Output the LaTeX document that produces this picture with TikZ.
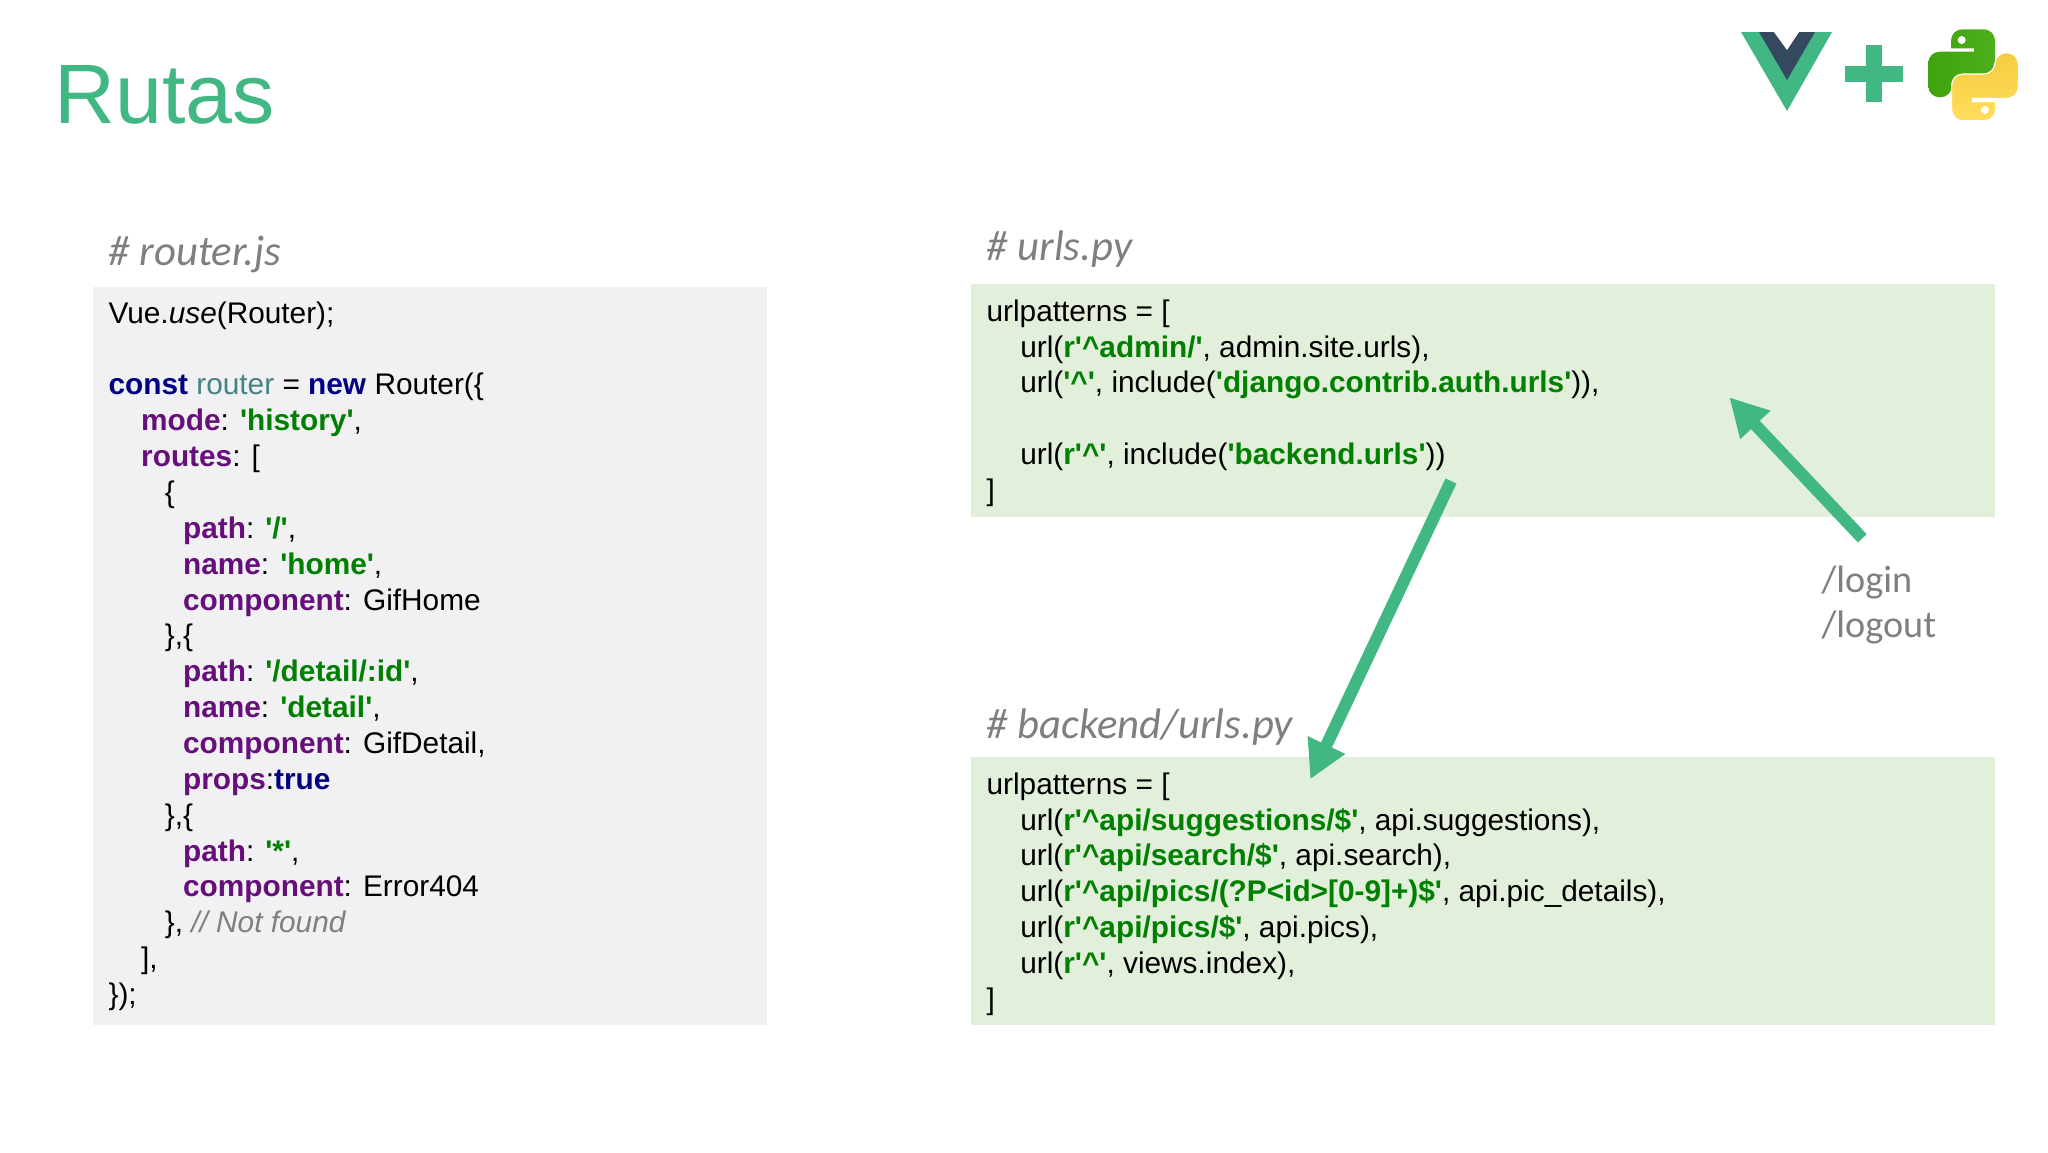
\documentclass[tikz,border=0pt]{standalone}
\usepackage{fontspec}
\usepackage{tikz}
\usetikzlibrary{arrows.meta}

\setmainfont{Liberation Sans}
\newfontfamily\codefont{Liberation Sans}
\newfontfamily\notefont{Carlito}

\definecolor{vuegreen}{HTML}{41B883}
\definecolor{vuedark}{HTML}{35495E}
\definecolor{notegray}{HTML}{7F7F7F}
\definecolor{jsbox}{HTML}{F1F1F3}
\definecolor{pybox}{HTML}{E2EFDA}
\definecolor{kwblue}{HTML}{000080}
\definecolor{proppurple}{HTML}{660E7A}
\definecolor{strgreen}{HTML}{008000}
\definecolor{vartcolor}{HTML}{458383}
\definecolor{pygreen}{HTML}{3FA30E}
\definecolor{pygreenlight}{HTML}{4DB01A}
\definecolor{pyyellow}{HTML}{FFDD5C}
\definecolor{pyyellowdeep}{HTML}{F5CC3E}

\newcommand{\kw}[1]{\textcolor{kwblue}{\textbf{#1}}}
\newcommand{\propname}[1]{\textcolor{proppurple}{\textbf{#1}}}
\newcommand{\strval}[1]{\textcolor{strgreen}{\textbf{#1}}}
\newcommand{\ind}[1]{\hspace*{#1pt}}
\newcommand{\caret}{\textasciicircum}
\newcommand{\snakepath}{(1951,48.3) [rounded corners=4pt] -- (1951,29.3) -- (1995,29.3) -- (1995,76) -- (1951.7,76) -- (1951.7,97.3) -- (1928.3,97.3) -- (1928.3,51.7) [sharp corners] -- (1974,51.7) -- (1974,48.3) -- cycle}

\tikzset{
    jspanel/.style={fill=jsbox,anchor=north west,inner sep=0pt,minimum width=8.425cm},
    pypanel/.style={fill=pybox,anchor=north west,inner sep=0pt,minimum width=12.8cm},
    codetext/.style={anchor=north west,inner sep=0pt,align=left,font=\codefont\fontsize{10.6}{12.75}\selectfont},
    heading/.style={anchor=base west,inner sep=0pt,text=notegray,font=\notefont\itshape\fontsize{15.2}{18}\selectfont},
    routenote/.style={anchor=base west,inner sep=0pt,align=left,text=notegray,font=\notefont\fontsize{13.6}{16}\selectfont},
    flow/.style={draw=vuegreen,line width=4.3pt,-{Triangle[length=13.5pt,width=13.8pt]}}
}

\begin{document}
\begin{tikzpicture}[x=0.0125cm,y=-0.0125cm]
    \useasboundingbox (0,0) rectangle (2048,1152);

    % title
    \node[anchor=base west,inner sep=0pt,text=vuegreen,font=\fontsize{30}{34}\selectfont] (title) at (54,123) {Rutas};

    % logos
    \fill[vuegreen] (1741,32) -- (1832,32) -- (1787,111) -- cycle;
    \fill[vuedark] (1759,32) -- (1815,32) -- (1787,80) -- cycle;
    \fill[white] (1774,32) -- (1799,32) -- (1787,50) -- cycle;
    \fill[vuegreen] (1845,66) rectangle (1903,82);
    \fill[vuegreen] (1866,45) rectangle (1882,102);
    \shade[left color=pygreen,right color=pygreenlight] \snakepath;
    \fill[white] (1961.7,40) circle (4);
    \shade[top color=pyyellowdeep,bottom color=pyyellow,rotate around={180:(1973.3,75)}] \snakepath;
    \draw[white,line width=0.4pt,rotate around={180:(1973.3,75)}] \snakepath;
    \fill[white] (1984.9,110) circle (4);

    % panels
    \node[jspanel,minimum height=9.225cm] (routerbox) at (92,286) {};
    \node[pypanel,minimum height=2.9125cm] (urlsbox) at (970,283) {};
    \node[pypanel,minimum height=3.35cm] (backendbox) at (970,756) {};

    % headings
    \node[heading] (routerhead) at (108,265) {\# router.js};
    \node[heading] (urlshead) at (986,260.5) {\# urls.py};
    \node[heading] (backendhead) at (986,738) {\# backend/urls.py};

    % code
    \node[codetext] (routercode) at (108,301) {%
        Vue.\textit{use}(Router);\\
        \mbox{}\\
        \kw{const} \textcolor{vartcolor}{router} = \kw{new} Router(\{\\
        \ind{11.6}\propname{mode}: \strval{'history'},\\
        \ind{11.6}\propname{routes}: [\\
        \ind{20}\{\\
        \ind{26.5}\propname{path}: \strval{'/'},\\
        \ind{26.5}\propname{name}: \strval{'home'},\\
        \ind{26.5}\propname{component}: GifHome\\
        \ind{20}\},\{\\
        \ind{26.5}\propname{path}: \strval{'/detail/:id'},\\
        \ind{26.5}\propname{name}: \strval{'detail'},\\
        \ind{26.5}\propname{component}: GifDetail,\\
        \ind{26.5}\propname{props}:\kw{true}\\
        \ind{20}\},\{\\
        \ind{26.5}\propname{path}: \strval{'*'},\\
        \ind{26.5}\propname{component}: Error404\\
        \ind{20}\}, \textcolor{notegray}{\textit{// Not found}}\\
        \ind{11.6}],\\
        \});};
    \node[codetext] (urlscode) at (986,299) {%
        urlpatterns = [\\
        \ind{12}url(\strval{r'\caret admin/'}, admin.site.urls),\\
        \ind{12}url(\strval{'\caret '}, include(\strval{'django.contrib.auth.urls'})),\\
        \mbox{}\\
        \ind{12}url(\strval{r'\caret '}, include(\strval{'backend.urls'}))\\
        ]};
    \node[codetext] (backendcode) at (986,772) {%
        urlpatterns = [\\
        \ind{12}url(\strval{r'\caret api/suggestions/\$'}, api.suggestions),\\
        \ind{12}url(\strval{r'\caret api/search/\$'}, api.search),\\
        \ind{12}url(\strval{r'\caret api/pics/(?P<id>[0-9]+)\$'}, api.pic\_details),\\
        \ind{12}url(\strval{r'\caret api/pics/\$'}, api.pics),\\
        \ind{12}url(\strval{r'\caret '}, views.index),\\
        ]};

    % routes
    \node[routenote] (loginnote) at (1821,637) {/login\\/logout};

    % arrows
    \coordinate (includeend) at (1451,481);
    \coordinate (backendtip) at (1310.3,779.3);
    \coordinate (notestart) at (1862.3,538.3);
    \coordinate (authtip) at (1729.3,397.3);
    \draw[flow] (includeend) -- (backendtip);
    \draw[flow] (notestart) -- (authtip);
\end{tikzpicture}
\end{document}
